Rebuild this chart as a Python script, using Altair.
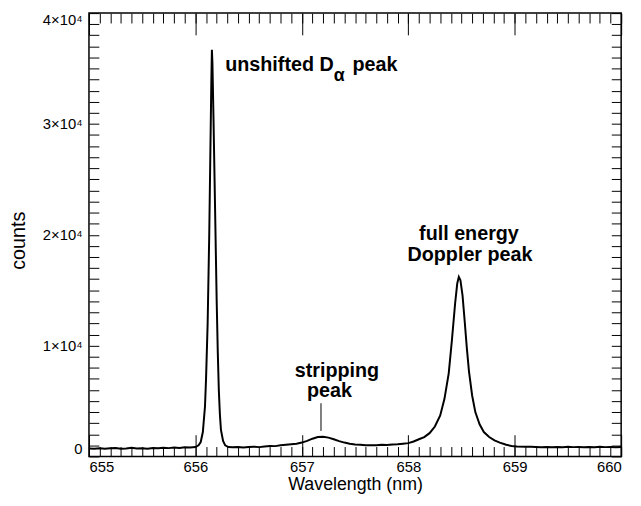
import altair as alt
import pandas as pd

# ---- spectrum data ----
wavelength = [
    655.00, 655.05, 655.10, 655.15, 655.20, 655.25, 655.30, 655.35, 655.40, 655.45,
    655.50, 655.55, 655.60, 655.65, 655.70, 655.75, 655.80, 655.85, 655.90, 655.95,
    656.00, 656.03, 656.05, 656.07, 656.09, 656.10, 656.115, 656.13, 656.14, 656.15,
    656.155, 656.16, 656.17, 656.18, 656.19, 656.20, 656.21, 656.22, 656.23, 656.24,
    656.26, 656.28, 656.31, 656.35, 656.40, 656.45, 656.50, 656.55, 656.60, 656.65,
    656.70, 656.75, 656.80, 656.85, 656.90, 656.95, 657.00, 657.05, 657.10, 657.15,
    657.20, 657.25, 657.30, 657.35, 657.40, 657.45, 657.50, 657.55, 657.60, 657.65,
    657.70, 657.75, 657.80, 657.85, 657.90, 657.95, 658.00, 658.05, 658.10, 658.15,
    658.20, 658.25, 658.30, 658.34, 658.38, 658.41, 658.44, 658.46, 658.475, 658.49,
    658.51, 658.53, 658.55, 658.57, 658.60, 658.63, 658.67, 658.71, 658.76, 658.81,
    658.86, 658.92, 658.97, 659.02, 659.10, 659.15, 659.20, 659.25, 659.30, 659.35,
    659.40, 659.45, 659.50, 659.55, 659.60, 659.65, 659.70, 659.75, 659.80, 659.85,
    659.90, 659.95, 660.00,
]
counts = [
    720, 700, 740, 690, 730, 760, 700, 720, 780, 710,
    740, 700, 760, 730, 780, 750, 800, 770, 820, 800,
    850, 1000, 1300, 2200, 4500, 7000, 12000, 20000, 27000, 34000,
    36700, 35500, 30500, 25000, 19500, 14000, 9500, 6000, 3800, 2400,
    1400, 1000, 850, 820, 860, 800, 850, 880, 840, 900,
    950, 930, 1000, 1050, 1100, 1150, 1250, 1400, 1600, 1750,
    1780, 1700, 1550, 1380, 1250, 1150, 1080, 1050, 1000, 1020,
    1000, 1050, 1030, 1080, 1100, 1150, 1200, 1350, 1550, 1750,
    2100, 2700, 3700, 5200, 7500, 10500, 13800, 15600, 16200, 15900,
    14500, 12200, 9800, 7700, 5500, 4000, 2900, 2200, 1750, 1450,
    1250, 1050, 950, 900, 870, 880, 850, 830, 860, 820,
    850, 830, 870, 840, 860, 820, 850, 830, 870, 840,
    850, 830, 850,
]

# ---- axis tick values ----
x_major = [655, 656, 657, 658, 659, 660]
x_minor = [round(655 + i * 0.1, 1) for i in range(51)]
y_major = [0, 10000, 20000, 30000, 40000]
y_minor = [i * 1000 for i in range(41)]

# ---- annotations ----
left_text = ["unshifted D", "peak"]
left_x = [656.28, 657.475]
left_y = [35300, 35300]

sub_text = ["\u03b1"]
sub_x = [657.30]
sub_y = [34300]

center_text = ["stripping", "peak", "full energy", "Doppler peak"]
center_x = [657.33, 657.26, 658.57, 658.58]
center_y = [7700, 5880, 20100, 18200]

pointer_x = [657.18]
pointer_y = [2300]
pointer_y2 = [4800]

FONT = "Liberation Sans"
W, H = 539, 449

df = pd.DataFrame({"wavelength": wavelength, "counts": counts})
left_df = pd.DataFrame({"t": left_text, "x": left_x, "y": left_y})
sub_df = pd.DataFrame({"t": sub_text, "x": sub_x, "y": sub_y})
center_df = pd.DataFrame({"t": center_text, "x": center_x, "y": center_y})
ptr = pd.DataFrame({"x": pointer_x, "y": pointer_y, "y2": pointer_y2})

xs = alt.Scale(domain=[655, 660], nice=False, zero=False)
ys = alt.Scale(domain=[0, 40000], nice=False)


def tick_axis(orient, offset, values, size):
    return alt.Axis(orient=orient, offset=offset, values=values, tickSize=size,
                    tickColor="black", tickWidth=1, labels=False, domain=False,
                    grid=False, title="")


main = alt.Chart(df).mark_line(color="black", strokeWidth=2).encode(
    x=alt.X("wavelength:Q", scale=xs, axis=alt.Axis(
        orient="bottom", values=x_major, ticks=False, domain=False, grid=False,
        format="d", labelFont=FONT, labelFontSize=15, labelColor="black",
        labelPadding=3, title="Wavelength (nm)", titleFont=FONT, titleFontSize=18,
        titleFontWeight="normal", titleColor="black", titleBaseline="middle",
        titleY=29)),
    y=alt.Y("counts:Q", scale=ys, axis=alt.Axis(
        orient="left", values=y_major, ticks=False, domain=False, grid=False,
        labelExpr="datum.value == 0 ? '0' : (datum.value / 10000) + '\u00d710\u2074'",
        labelFlush=True, labelFont=FONT, labelFontSize=15, labelColor="black",
        labelPadding=7, title="counts", titleFont=FONT, titleFontSize=20,
        titleFontWeight="normal", titleColor="black", titleAngle=-90,
        titleAlign="center", titleBaseline="middle", titleX=-71, titleY=230)),
)

base_inv = alt.Chart(df).mark_line(opacity=0)

t1 = base_inv.encode(
    x=alt.X("wavelength:Q", scale=xs, axis=tick_axis("top", -H, x_minor, 10)),
    y=alt.Y("counts:Q", scale=ys, axis=tick_axis("right", -W, y_minor, 10)),
)
t2 = base_inv.encode(
    x=alt.X("wavelength:Q", scale=xs, axis=tick_axis("top", -H, x_major, 22)),
    y=alt.Y("counts:Q", scale=ys, axis=tick_axis("left", -W, y_minor, 10)),
)
t3 = base_inv.encode(
    x=alt.X("wavelength:Q", scale=xs, axis=tick_axis("bottom", -H, x_minor, 10)),
    y=alt.Y("counts:Q", scale=ys, axis=None),
)
t4 = base_inv.encode(
    x=alt.X("wavelength:Q", scale=xs, axis=tick_axis("bottom", -H, x_major, 22)),
    y=alt.Y("counts:Q", scale=ys, axis=None),
)


def text_layer(data, align, size):
    return alt.Chart(data).mark_text(font=FONT, fontWeight="bold", color="black",
                                     baseline="middle", align=align, fontSize=size).encode(
        x=alt.X("x:Q", scale=xs, axis=None),
        y=alt.Y("y:Q", scale=ys, axis=None),
        text="t:N",
    )


pointer = alt.Chart(ptr).mark_rule(color="black", strokeWidth=1).encode(
    x=alt.X("x:Q", scale=xs, axis=None),
    y=alt.Y("y:Q", scale=ys, axis=None),
    y2="y2:Q",
)

chart = alt.layer(
    main, t1, t2, t3, t4, pointer,
    text_layer(left_df, "left", 20),
    text_layer(sub_df, "left", 18),
    text_layer(center_df, "center", 20),
).resolve_axis(
    x="independent", y="independent"
).properties(
    width=W, height=H,
    autosize=alt.AutoSizeParams(type="none"),
    padding={"left": 82, "top": 2, "right": 12, "bottom": 45},
    background="white",
).configure_view(stroke="black", strokeWidth=1.5)

chart.save("out.html", embed_options={"renderer": "svg", "actions": False})
